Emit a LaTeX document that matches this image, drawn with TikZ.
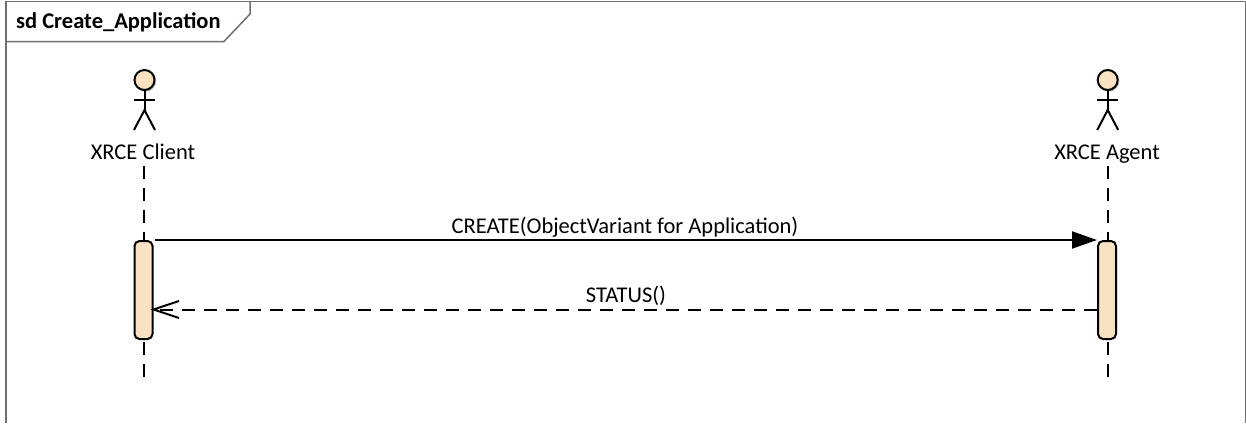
\documentclass[tikz,border=0pt]{standalone}
\usepackage{fontspec}
\setmainfont{Carlito}
\usetikzlibrary{arrows.meta}
\definecolor{fillc}{HTML}{F8E2C2}
\definecolor{framec}{HTML}{707070}
\tikzset{
  lbl/.style={font=\fontsize{22.5}{24}\selectfont,text=black,inner sep=0pt,anchor=base},
  framepath/.style={draw=framec,line width=1.5pt},
  tablabel/.style={font=\fontsize{22.5}{24}\selectfont\bfseries,text=black,inner sep=0pt,anchor=base west},
  head/.style={circle,draw=black,fill=fillc,line width=2pt,minimum size=20pt,inner sep=0pt},
  limb/.style={draw=black,line width=2pt},
  bar/.style={rectangle,rounded corners=5pt,draw=black,fill=fillc,line width=2pt,minimum width=18pt,minimum height=98pt,inner sep=0pt,anchor=north},
  life/.style={draw=black,line width=2pt,dash pattern=on 13.3pt off 8.7pt},
  msg/.style={draw=black,line width=2pt},
  ret/.style={draw=black,line width=2pt,dash pattern=on 13.3pt off 8.7pt}
}
\begin{document}
\begin{tikzpicture}[x=1pt,y=-1pt]
\useasboundingbox (0,0) rectangle (1246,423);
% frame
\draw[framepath] (6,423) -- (6,1.5) -- (1245.3,1.5) -- (1245.3,423);
\draw[framepath] (6,41.5) -- (224,41.5) -- (250,14) -- (250,1.5);
\node[tablabel] (title) at (16,28) {sd Create\_Application};
% lifelines
\coordinate (cTop) at (144.3,166);
\coordinate (cEnd) at (144.3,377);
\coordinate (aTop) at (1107.7,166);
\coordinate (aEnd) at (1107.7,377);
\draw[life] (cTop) -- (cEnd);
\draw[life] (aTop) -- (aEnd);
% client actor
\fill[black!25] (145.7,81.2) circle (10.5pt);
\node[head] (cHead) at (144.5,80) {};
\coordinate (cHip) at (144.5,110);
\coordinate (cArmL) at (134,99.5);
\coordinate (cArmR) at (155,99.5);
\coordinate (cLegL) at (134,130);
\coordinate (cLegR) at (155,130);
\draw[limb] (cHead.south) -- (cHip);
\draw[limb] (cArmL) -- (cArmR);
\draw[limb] (cLegL) -- (cHip) -- (cLegR);
\node[lbl] (cLabel) at (143,159) {XRCE Client};
% agent actor
\fill[black!25] (1108.9,81.2) circle (10.5pt);
\node[head] (aHead) at (1107.7,80) {};
\coordinate (aHip) at (1107.7,110);
\coordinate (aArmL) at (1097.2,99.5);
\coordinate (aArmR) at (1118.2,99.5);
\coordinate (aLegL) at (1097.2,130);
\coordinate (aLegR) at (1118.2,130);
\draw[limb] (aHead.south) -- (aHip);
\draw[limb] (aArmL) -- (aArmR);
\draw[limb] (aLegL) -- (aHip) -- (aLegR);
\node[lbl] (aLabel) at (1107,159) {XRCE Agent};
% activation bars
\node[bar] (barC) at (143.5,240) {};
\node[bar] (barA) at (1107,240) {};
% messages
\coordinate (m1s) at (154.5,240);
\coordinate (m2e) at (153.5,309.5);
\draw[msg,-{Triangle[length=25pt,width=17pt]}] (m1s) -- (barA.north west);
\draw[ret] (barA.west |- m2e) -- (m2e);
\coordinate (b1) at (179,301);
\coordinate (b2) at (179,318);
\draw[limb] (b1) -- (m2e) -- (b2);
\node[lbl] (m1l) at (625,233) {CREATE(ObjectVariant for Application)};
\node[lbl] (m2l) at (626,302) {STATUS()};
\end{tikzpicture}
\end{document}
